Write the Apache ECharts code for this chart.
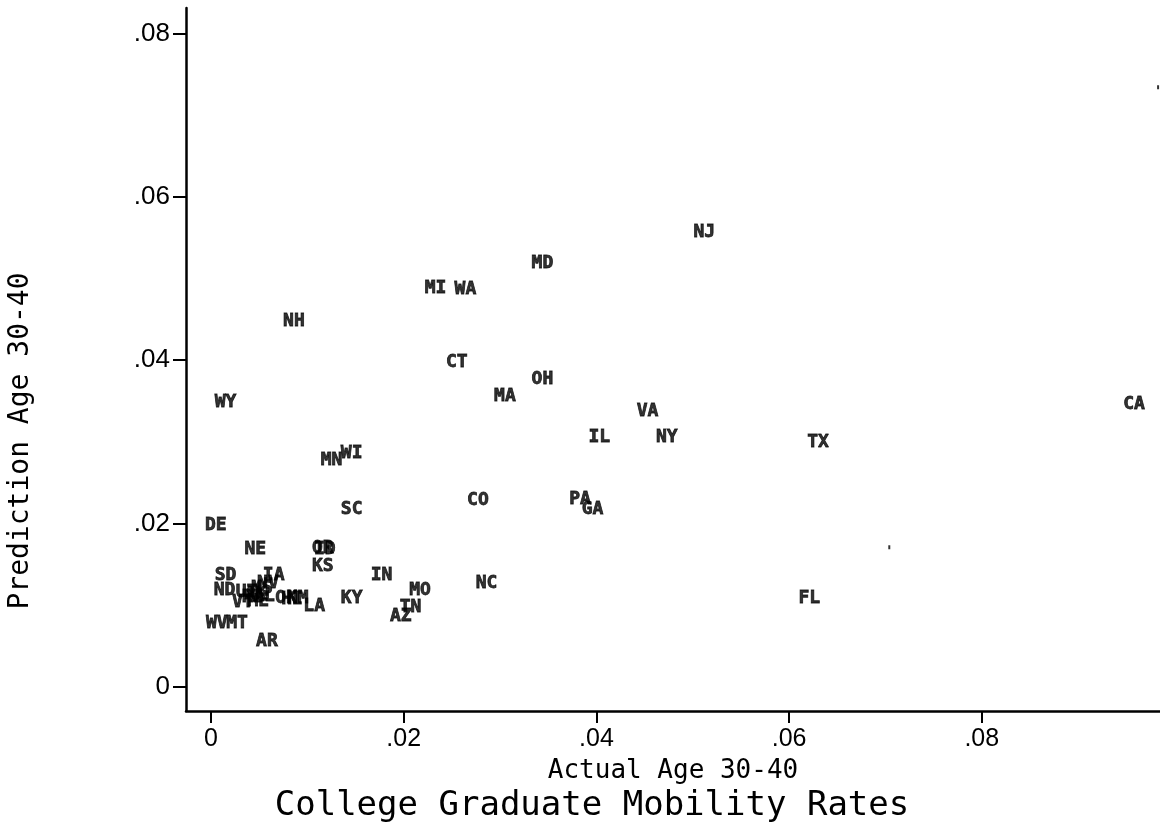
<!DOCTYPE html>
<html>
<head>
<meta charset="utf-8">
<script src="https://cdn.jsdelivr.net/npm/echarts@6/dist/echarts.min.js"></script>
<style>
html,body{margin:0;padding:0;background:#fff;}
#chart{width:1160px;height:833px;}
</style>
</head>
<body>
<div id="chart"></div>
<script>
// State labels and their (actual, predicted) mobility rates
var states = ['NJ','MD','MI','WA','NH','CT','OH','MA','WY','CA','VA','IL','NY','TX','WI','MN','SC','CO','PA','GA','DE','NE','OR','ID','KS','SD','IA','IN','NV','MS','ND','UT','AL','AK','RI','ME','VT','OK','HI','NM','LA','KY','MO','NC','TN','AZ','FL','WV','MT','AR'];
var actual = [0.0512,0.0344,0.0233,0.0264,0.0086,0.0255,0.0344,0.0305,0.0015,0.0958,0.0453,0.0403,0.0473,0.0630,0.0146,0.0125,0.0146,0.0277,0.0383,0.0396,0.0005,0.0046,0.0116,0.0118,0.0116,0.0015,0.0065,0.0177,0.0059,0.0053,0.0014,0.0037,0.0055,0.0046,0.0043,0.0049,0.0033,0.0078,0.0084,0.0090,0.0107,0.0146,0.0217,0.0286,0.0207,0.0197,0.0621,0.0006,0.0027,0.0058];
var predicted = [0.0556,0.0518,0.0488,0.0487,0.0448,0.0397,0.0377,0.0356,0.0348,0.0346,0.0337,0.0306,0.0306,0.0299,0.0286,0.0278,0.0217,0.0228,0.0230,0.0217,0.0198,0.0168,0.0170,0.0168,0.0148,0.0137,0.0137,0.0137,0.0127,0.0121,0.0118,0.0116,0.0111,0.0113,0.0110,0.0105,0.0103,0.0108,0.0107,0.0108,0.0099,0.0108,0.0118,0.0127,0.0098,0.0087,0.0108,0.0078,0.0078,0.0056];
// unlabeled points shown as dots
var dotX = [0.0704, 0.0983];
var dotY = [0.0171, 0.0734];
var xTicks = [0, 0.02, 0.04, 0.06, 0.08];
var yTicks = [0, 0.02, 0.04, 0.06, 0.08];
var xTitle = 'Actual Age 30-40';
var yTitle = 'Prediction Age 30-40';
var mainTitle = 'College Graduate Mobility Rates';

function fmt(v){
  if (Math.abs(v) < 1e-9) return '0';
  return String(+v.toFixed(4)).replace(/^0\./, '.');
}

var labelData = states.map(function(s, i){ return {name: s, value: [actual[i], predicted[i]]}; });
var dotData = dotX.map(function(x, i){ return [x, dotY[i]]; });

var chart = echarts.init(document.getElementById('chart'), null, {renderer:'canvas'});
chart.setOption({
  backgroundColor: '#ffffff',
  animation: false,
  grid: {left: 186, top: 8, width: 975.5, height: 703, containLabel: false},
  xAxis: {
    type: 'value', min: -0.0026, max: 0.0985,
    splitLine: {show: false},
    axisLine: {show: true, onZero: false, lineStyle: {color: '#000', width: 2.5}},
    axisTick: {show: true, length: 12, lineStyle: {color: '#000', width: 2}, customValues: xTicks},
    axisLabel: {show: true, customValues: xTicks, formatter: fmt, margin: 16, color: '#000', fontFamily: 'Liberation Sans', fontSize: 25}
  },
  yAxis: {
    type: 'value', min: -0.00294, max: 0.0831,
    splitLine: {show: false},
    axisLine: {show: true, onZero: false, lineStyle: {color: '#000', width: 2.5}},
    axisTick: {show: true, length: 13, lineStyle: {color: '#000', width: 2}, customValues: yTicks},
    axisLabel: {show: true, customValues: yTicks, formatter: fmt, margin: 16, color: '#000', fontFamily: 'Liberation Sans', fontSize: 26}
  },
  graphic: [
    {type: 'text', x: 673, y: 771, style: {text: xTitle, fill: '#000', font: '26px "DejaVu Sans Mono"', textAlign: 'center', textVerticalAlign: 'middle'}},
    {type: 'text', x: 592, y: 806, style: {text: mainTitle, fill: '#000', font: '34px "DejaVu Sans Mono"', textAlign: 'center', textVerticalAlign: 'middle'}},
    {type: 'text', x: 21, y: 441, rotation: Math.PI/2, style: {text: yTitle, fill: '#000', font: '28px "DejaVu Sans Mono"', textAlign: 'center', textVerticalAlign: 'middle'}}
  ],
  series: [
    {
      type: 'scatter', data: labelData, symbol: 'circle', symbolSize: 1,
      itemStyle: {color: 'rgba(0,0,0,0)'},
      label: {show: true, position: 'inside', formatter: '{b}', color: '#000', fontFamily: 'DejaVu Sans Mono', fontWeight: 'bold', fontSize: 18, textBorderColor: '#000', textBorderWidth: 0.8},
      emphasis: {disabled: true}
    },
    {
      type: 'scatter', data: dotData, symbol: 'rect', symbolSize: [2, 4],
      itemStyle: {color: '#000'}, emphasis: {disabled: true}
    }
  ]
});
</script>
</body>
</html>
